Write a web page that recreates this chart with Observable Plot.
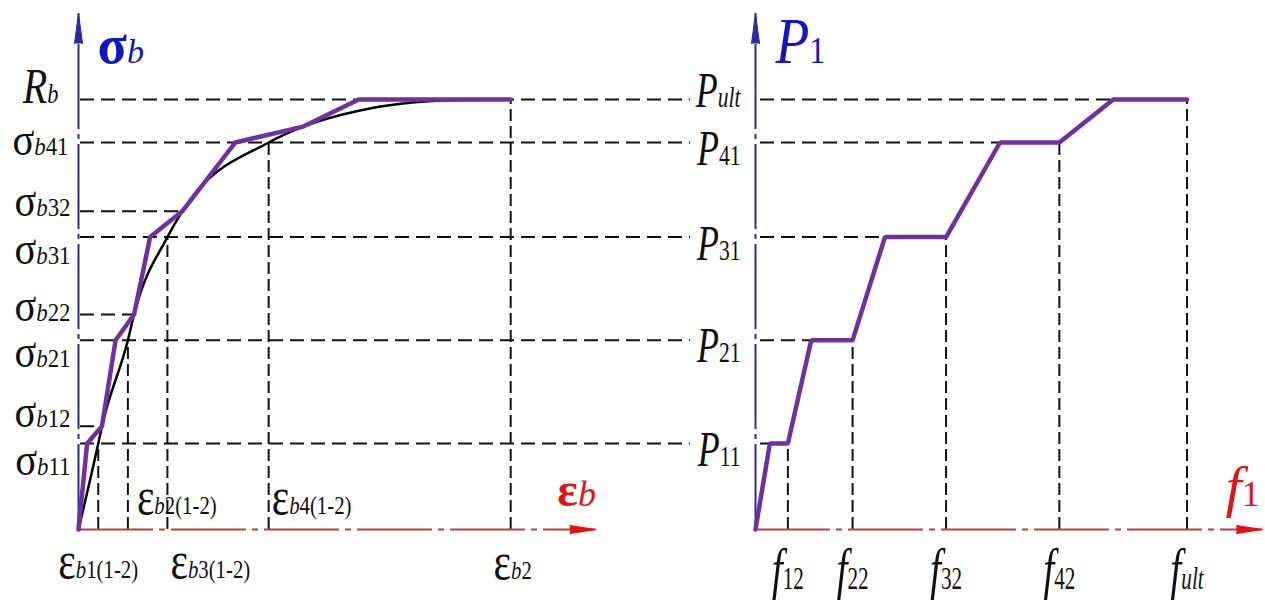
<!DOCTYPE html>
<html>
<head>
<meta charset="utf-8">
<script src="https://cdn.jsdelivr.net/npm/d3@7"></script>
<script src="https://cdn.jsdelivr.net/npm/@observablehq/plot@0.6"></script>
<style>
  html, body { margin: 0; padding: 0; background: #fff; }
  #figure { position: relative; width: 1265px; height: 600px; overflow: hidden; background: #fff; }
  #figure > svg { position: absolute; left: 0; top: 0; }
</style>
</head>
<body>
<div id="figure"></div>
<script>
// ---- σb–εb diagram of concrete (stress as a fraction of Rb, strain in ‰) ----
// label format: symbol_italicIndex_romanIndex
const sigmaNames  = ["R_b_", "σ_b_41", "σ_b_32", "σ_b_31", "σ_b_22", "σ_b_21", "σ_b_12", "σ_b_11"];
const sigmaLevels = [1.00, 0.90, 0.74, 0.68, 0.50, 0.44, 0.24, 0.20];

const epsNames  = ["ε_b_1(1-2)", "ε_b_2(1-2)", "ε_b_3(1-2)", "ε_b_4(1-2)", "ε_b_2"];
const epsValues = [0.16, 0.40, 0.72, 1.54, 3.50];
const epsLevels = [0.20, 0.44, 0.68, 0.90, 1.00];

// curvilinear diagram
const curveEps   = [0, 0.16, 0.19, 0.40, 0.45, 0.72, 0.84, 1.54, 1.82, 2.27, 2.61, 3.01, 3.50];
const curveSigma = [0, 0.20, 0.24, 0.44, 0.50, 0.68, 0.74, 0.90, 0.937, 0.974, 0.99, 0.998, 1.00];

// piecewise-linear replacement of the diagram
const polyEps   = [0, 0.07, 0.19, 0.30, 0.45, 0.58, 0.84, 1.27, 1.82, 2.27, 3.50];
const polySigma = [0, 0.20, 0.24, 0.44, 0.50, 0.68, 0.74, 0.90, 0.937, 1.00, 1.00];

// ---- P1–f1 diagram (load as a fraction of Pult, deflection in mm) ----
const loadNames  = ["P_ult_", "P__41", "P__31", "P__21", "P__11"];
const loadLevels = [1.00, 0.90, 0.68, 0.44, 0.20];

const deflNames  = ["f__12", "f__22", "f__32", "f__42", "f_ult_"];
const deflValues = [1.8, 5.4, 10.6, 16.9, 24.0];
const deflLevels = [0.20, 0.44, 0.68, 0.90, 1.00];

const pathDefl = [0, 0.8, 1.8, 3.1, 5.4, 7.2, 10.6, 13.6, 16.9, 19.9, 24.0];
const pathLoad = [0, 0.20, 0.20, 0.44, 0.44, 0.68, 0.68, 0.90, 0.90, 1.00, 1.00];

// ---- scales and styling ----
const EPS_AXIS = 4.19;   // end of the ε axis (arrow tip)
const EPS_GUIDE = 4.94;  // level lines run across to the load labels
const DEFL_AXIS = 28.2;  // end of the f axis (arrow tip)
const Y_TOP = 1.2;       // top of both vertical axes

const FONT = "Liberation Serif, Times New Roman, serif";
const C = {
  axisBlue: "#2b2b9e", textBlue: "#1515c8",
  axisRed: "#c23b3b", textRed: "#e01515",
  purple: "#7030a0", ink: "#111"
};
const frame = {width: 1265, height: 600, marginTop: 13, marginBottom: 71};
const yScale = {domain: [0, Y_TOP], axis: null};
const dashH = "14,7", dashV = "12,5";

// label typography per group (squeeze = horizontal condensing of the glyphs)
const SIG = {base: 46, sub: 26, squeeze: 0.88};
const RB  = {base: 50, sub: 28, baseStyle: "italic", squeeze: 0.8};
const EPS = {base: 52, sub: 26, squeeze: 0.8};
const LOAD = {base: 50, sub: 30, baseStyle: "italic", squeeze: 0.72};
const DEFL = {base: 60, sub: 32, baseStyle: "italic", squeeze: 0.66};

// label offsets (px) relative to the point they annotate
const sigmaLayout = {
  "R_b_": [-20, 3], "σ_b_41": [-10, 12], "σ_b_32": [-8, 5], "σ_b_31": [-8, 27],
  "σ_b_22": [-8, 6], "σ_b_21": [-8, 27], "σ_b_12": [-8, 1], "σ_b_11": [-8, 31]
};
const epsLayout = {
  "ε_b_1(1-2)": ["middle", 0, 48], "ε_b_2(1-2)": ["start", 9, -16],
  "ε_b_3(1-2)": ["start", 3, 48], "ε_b_4(1-2)": ["start", 3, -16], "ε_b_2": ["middle", 2, 49]
};
const loadLayout = {"P_ult_": 7, "P__41": 22, "P__31": 23, "P__21": 22, "P__11": 22};

// text marks whose symbol and index are set as separate tspans afterwards
const richSpecs = new Map();
function rich(x, y, name, spec, opts = {}) {
  richSpecs.set(name, spec);
  return Plot.text([{x, y, name}], {
    x: "x", y: "y", text: "name", lineAnchor: "bottom",
    fontFamily: FONT, fontSize: spec.sub, fill: spec.color ?? C.ink, ...opts
  });
}

function enrich(svg) {
  const NS = "http://www.w3.org/2000/svg";
  svg.querySelectorAll("text").forEach(t => {
    const name = t.textContent;
    const spec = richSpecs.get(name);
    if (!spec) return;
    const [sym, it, rm] = name.split("_");
    t.removeAttribute("y");
    t.textContent = "";
    const add = (str, size, style, weight) => {
      if (!str) return;
      const s = document.createElementNS(NS, "tspan");
      s.textContent = str;
      s.style.fontSize = size + "px";
      s.style.fontStyle = style;
      s.style.fontWeight = weight;
      t.appendChild(s);
    };
    add(sym, spec.base, spec.baseStyle ?? "normal", spec.baseWeight ?? "normal");
    add(it, spec.sub, "italic", "normal");
    add(rm, spec.sub, "normal", "normal");
    // condense horizontally about the anchor point
    const k = spec.squeeze ?? 1;
    if (k !== 1) {
      const tr = t.getAttribute("transform") || "";
      t.setAttribute("transform", `${tr} scale(${k},1)`.trim());
    }
  });
}

const idx = a => d3.range(a.length);

// ---- left panel: σb–εb ----
const mainLevels = loadLevels;
const shortLevels = sigmaLevels.filter(v => !mainLevels.includes(v));
const shortEnds = shortLevels.map(v => polyEps[polySigma.indexOf(v)]);

const left = Plot.plot({
  ...frame,
  marginLeft: 78, marginRight: 1265 - 688,
  x: {domain: [0, EPS_GUIDE], axis: null},
  y: yScale,
  style: {background: "transparent", overflow: "visible"},
  marks: [
    Plot.ruleY(mainLevels, {x1: 0, x2: EPS_GUIDE, stroke: C.ink, strokeWidth: 2, strokeDasharray: dashH, dx: 2}),
    Plot.ruleY(idx(shortLevels), {y: i => shortLevels[i], x1: 0, x2: i => shortEnds[i], stroke: C.ink, strokeWidth: 2, strokeDasharray: dashH, dx: 2}),
    Plot.ruleX(idx(epsValues), {x: i => epsValues[i], y1: 0, y2: i => epsLevels[i], stroke: C.ink, strokeWidth: 2, strokeDasharray: dashV}),
    // axes
    Plot.ruleX([0], {y1: 0, y2: Y_TOP, stroke: C.axisBlue, strokeWidth: 2, strokeDasharray: "85,5,5,5"}),
    Plot.ruleY([0], {x1: 0, x2: EPS_AXIS, stroke: C.axisRed, strokeWidth: 2, strokeDasharray: "75,6,6,6"}),
    Plot.vector([0], {x: 0, y: Y_TOP, length: 30, rotate: 0, anchor: "end", shape: "spike", r: 4, fill: C.axisBlue, stroke: C.axisBlue, strokeWidth: 1}),
    Plot.vector([0], {x: EPS_AXIS, y: 0, length: 26, rotate: 90, anchor: "end", shape: "spike", r: 4, fill: "#e01010", stroke: "#e01010", strokeWidth: 1}),
    // diagrams
    Plot.line(idx(curveEps), {x: i => curveEps[i], y: i => curveSigma[i], curve: "monotone-x", stroke: "#000", strokeWidth: 2.5}),
    Plot.line(idx(polyEps), {x: i => polyEps[i], y: i => polySigma[i], stroke: C.purple, strokeWidth: 4.5, strokeLinejoin: "miter"}),
    // labels
    ...sigmaNames.map((n, i) => rich(0, sigmaLevels[i], n, n.startsWith("R") ? RB : SIG,
      {textAnchor: "end", dx: sigmaLayout[n][0], dy: sigmaLayout[n][1]})),
    ...epsNames.map((n, i) => rich(epsValues[i], 0, n, EPS,
      {textAnchor: epsLayout[n][0], dx: epsLayout[n][1], dy: epsLayout[n][2]})),
    rich(0, Y_TOP, "σ_b_", {base: 54, sub: 34, baseWeight: "bold", color: C.textBlue}, {textAnchor: "start", dx: 19, dy: 49}),
    rich(EPS_AXIS, 0, "ε_b_", {base: 48, sub: 36, baseWeight: "bold", color: C.textRed}, {textAnchor: "end", dx: 0, dy: -24})
  ]
});

// ---- right panel: P1–f1 ----
const plateauStarts = loadLevels.map(v => pathDefl[pathLoad.indexOf(v)]);

const right = Plot.plot({
  ...frame,
  marginLeft: 755, marginRight: 3,
  x: {domain: [0, DEFL_AXIS], axis: null},
  y: yScale,
  style: {background: "transparent", overflow: "visible"},
  marks: [
    Plot.ruleY(idx(loadLevels), {y: i => loadLevels[i], x1: 0, x2: i => plateauStarts[i], stroke: C.ink, strokeWidth: 2, strokeDasharray: dashH, dx: 5}),
    Plot.ruleX(idx(deflValues), {x: i => deflValues[i], y1: 0, y2: i => deflLevels[i], stroke: C.ink, strokeWidth: 2, strokeDasharray: dashV}),
    Plot.ruleX([0], {y1: 0, y2: Y_TOP, stroke: C.axisBlue, strokeWidth: 2, strokeDasharray: "85,5,5,5"}),
    Plot.ruleY([0], {x1: 0, x2: DEFL_AXIS, stroke: C.axisRed, strokeWidth: 2, strokeDasharray: "75,6,6,6"}),
    Plot.vector([0], {x: 0, y: Y_TOP, length: 30, rotate: 0, anchor: "end", shape: "spike", r: 4, fill: C.axisBlue, stroke: C.axisBlue, strokeWidth: 1}),
    Plot.vector([0], {x: DEFL_AXIS, y: 0, length: 26, rotate: 90, anchor: "end", shape: "spike", r: 4, fill: "#e01010", stroke: "#e01010", strokeWidth: 1}),
    Plot.line(idx(pathDefl), {x: i => pathDefl[i], y: i => pathLoad[i], stroke: C.purple, strokeWidth: 4.5, strokeLinejoin: "miter"}),
    ...loadNames.map((n, i) => rich(0, loadLevels[i], n, LOAD, {textAnchor: "end", dx: -15, dy: loadLayout[n]})),
    ...deflNames.map((n, i) => rich(deflValues[i], 0, n, DEFL, {textAnchor: "middle", dy: 59})),
    rich(0, Y_TOP, "P__1", {base: 66, sub: 38, baseStyle: "italic", color: C.textBlue, squeeze: 0.84}, {textAnchor: "start", dx: 20, dy: 49}),
    rich(DEFL_AXIS, 0, "f__1", {base: 58, sub: 36, baseStyle: "italic", color: C.textRed}, {textAnchor: "start", dx: -37, dy: -24})
  ]
});

const fig = document.getElementById("figure");
fig.append(left, right);
[left, right].forEach(enrich);
</script>
</body>
</html>
